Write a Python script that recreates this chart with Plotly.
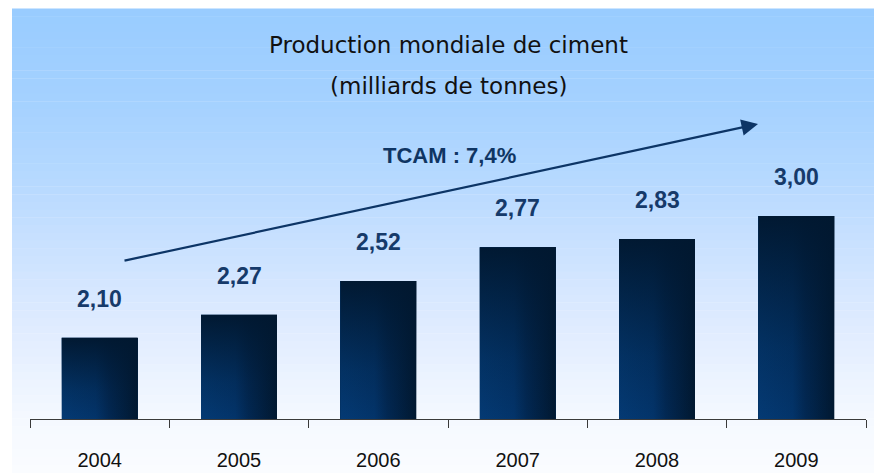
import plotly.graph_objects as go

years = ["2004", "2005", "2006", "2007", "2008", "2009"]
values = [2.10, 2.27, 2.52, 2.77, 2.83, 3.00]
labels = ["2,10", "2,27", "2,52", "2,77", "2,83", "3,00"]
title_lines = ["Production mondiale de ciment", "(milliards de tonnes)"]
cagr_text = "TCAM : 7,4%"

Y_MIN, Y_MAX = 1.5, 4.53
BAR_W = 0.545
xs = list(range(len(years)))

W, H = 874, 473
ML, MR, MT, MB = 30, 8, 9, 54
PH = H - MT - MB
PW = W - ML - MR

fig = go.Figure()

# base bars
fig.add_trace(go.Bar(x=xs, y=values, width=BAR_W, marker=dict(color="#022a55", line=dict(width=0)),
                     hoverinfo="skip", showlegend=False))

# gradient overlays for each bar (built from the data)
for xi, v in zip(xs, values):
    x0, x1 = xi - BAR_W / 2, xi + BAR_W / 2
    px = [x0, x1, x1, x0, x0]
    py = [Y_MIN, Y_MIN, v, v, Y_MIN]
    fig.add_trace(go.Scatter(
        x=px, y=py, mode="lines", fill="toself", line=dict(width=0),
        fillgradient=dict(type="horizontal",
                          colorscale=[[0, "#043a74"], [0.45, "#03346a"], [0.62, "#022853"], [1, "#011830"]]),
        hoverinfo="skip", showlegend=False))
    fig.add_trace(go.Scatter(
        x=px, y=py, mode="lines", fill="toself", line=dict(width=0),
        fillgradient=dict(type="vertical",
                          colorscale=[[0, "rgba(1,24,48,0)"], [0.35, "rgba(1,24,48,0.25)"], [1, "rgba(1,24,48,0.97)"]]),
        hoverinfo="skip", showlegend=False))

# value labels
for xi, v, t in zip(xs, values, labels):
    fig.add_annotation(x=xi, y=v, text=t, showarrow=False, yanchor="middle", yshift=39,
                       font=dict(family="Liberation Sans, Arial, sans-serif", size=23, color="#163a6a",
                                 weight="bold"))

# background gradient (paper coords)
stops = [(9, (153, 204, 255)), (100, (164, 209, 255)), (180, (182, 217, 255)), (240, (200, 224, 255)),
         (330, (224, 236, 255)), (420, (245, 249, 255)), (473, (250, 252, 255))]

def col_at(py):
    for (a, ca), (b, cb) in zip(stops[:-1], stops[1:]):
        if a <= py <= b:
            f = (py - a) / (b - a)
            return tuple(round(ca[i] + (cb[i] - ca[i]) * f) for i in range(3))
    return stops[-1][1]

def ppx(px):
    return (px - ML) / PW

def ppy(py):
    return (H - MB - py) / PH

N = 60
top, bot = 9, 473
for i in range(N):
    y0 = top + (bot - top) * i / N
    y1 = top + (bot - top) * (i + 1) / N
    c = col_at((y0 + y1) / 2)
    fig.add_shape(type="rect", xref="paper", yref="paper", x0=ppx(12), x1=ppx(874),
                  y0=ppy(y1), y1=ppy(y0) + 0.001, fillcolor="rgb(%d,%d,%d)" % c,
                  line=dict(width=0), layer="below")

# title
fig.add_annotation(xref="paper", yref="paper", x=0.5, y=ppy(45), text=title_lines[0], showarrow=False,
                   yanchor="middle", font=dict(family="DejaVu Sans, sans-serif", size=23, color="#111111"))
fig.add_annotation(xref="paper", yref="paper", x=0.5, y=ppy(86), text=title_lines[1], showarrow=False,
                   yanchor="middle", font=dict(family="DejaVu Sans, sans-serif", size=23, color="#111111"))

# CAGR arrow and text
fig.add_annotation(x=4.725, y=3.68, ax=0.1675, ay=2.668, axref="x", ayref="y", xref="x", yref="y",
                   text="", showarrow=True, arrowhead=2, arrowsize=1.5, arrowwidth=2.2, arrowcolor="#0d3566")
fig.add_annotation(xref="paper", yref="paper", x=ppx(450), y=ppy(155), text=cagr_text, showarrow=False,
                   yanchor="middle", font=dict(family="Liberation Sans, Arial, sans-serif", size=22,
                                               color="#0f3563", weight="bold"))

fig.update_layout(
    width=W, height=H, margin=dict(l=ML, r=MR, t=MT, b=MB),
    paper_bgcolor="white", plot_bgcolor="rgba(0,0,0,0)",
    showlegend=False, bargap=0,
    xaxis=dict(range=[-0.5, len(years) - 0.5], tickvals=xs, ticktext=years, ticks="",
               automargin=False,
               showgrid=False, zeroline=False, showline=True, linecolor="#3a3a3a", linewidth=1,
               tickfont=dict(family="Liberation Sans, Arial, sans-serif", size=20, color="#111111"),
               ticklabelstandoff=23,
               minor=dict(tickvals=[i - 0.5 for i in range(len(years) + 1)], ticks="outside",
                          ticklen=8, tickcolor="#3a3a3a", tickwidth=1, showgrid=False)),
    yaxis=dict(range=[Y_MIN, Y_MAX], visible=False, showgrid=False, zeroline=False, automargin=False),
)

fig.write_html("out.html", config={"displayModeBar": False},
               post_script="document.body.style.margin='0px';")
